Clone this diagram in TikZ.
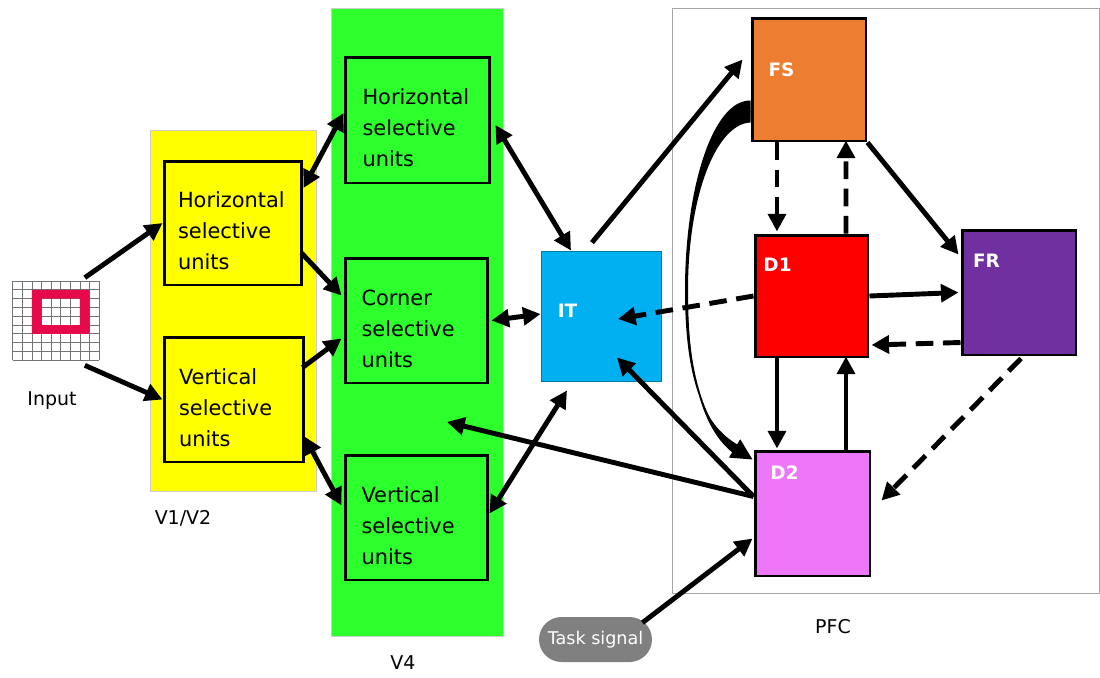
\documentclass[tikz,border=0pt]{standalone}
\usepackage{fontspec}
\setmainfont{DejaVu Sans}
\usetikzlibrary{arrows.meta,calc,shapes.misc,positioning}
\definecolor{vyellow}{RGB}{255,255,0}
\definecolor{vgreen}{RGB}{45,255,45}
\definecolor{itblue}{RGB}{0,176,240}
\definecolor{fsorange}{RGB}{237,125,49}
\definecolor{dred}{RGB}{255,0,0}
\definecolor{frpurple}{RGB}{112,48,160}
\definecolor{dpink}{RGB}{238,118,248}
\definecolor{taskgray}{RGB}{128,128,128}
\definecolor{inred}{RGB}{230,10,75}

\tikzset{
  unitbox/.style={draw, line width=1.7pt, align=left, text width=2.2cm, inner sep=0pt,
    font=\fontsize{11.9}{17.6}\selectfont, execute at begin node={\rule{0pt}{18pt}}},
  areabox/.style={draw, line width=1.7pt},
  arealabel/.style={text=white, font=\bfseries\fontsize{10.5}{12}\selectfont},
  regionlabel/.style={font=\fontsize{10.8}{13}\selectfont},
  conn/.style={line width=2.8pt, -{Triangle[length=10pt,width=10pt]}},
  biconn/.style={line width=2.8pt, {Triangle[length=10pt,width=10pt]}-{Triangle[length=10pt,width=10pt]}},
  dconn/.style={conn, dash pattern=on 10pt off 5.5pt},
}

\begin{document}
\begin{tikzpicture}[x=0.02cm, y=-0.02cm]
\useasboundingbox (0,0) rectangle (1100,677);

% Regions
\fill[vyellow, draw=gray!40] (150,130) rectangle (316,491);
\fill[vgreen, draw=gray!40] (331,8) rectangle (503,636);
\draw[gray!70] (672,8) rectangle (1099,593);

% Input grid
\node[minimum width=1.74cm, minimum height=1.58cm, inner sep=0pt] (inp) at (56,320.5) {};
\foreach \i in {0,...,9} {
    \draw[gray!90!black, line width=0.4pt] (12.7+9.6*\i,281) -- (12.7+9.6*\i,360);
    \draw[gray!90!black, line width=0.4pt] (12.7,281+8.8*\i) -- (99.1,281+8.8*\i);
}
\fill[inred, even odd rule] (31.9,289.8) rectangle (89.5,333.8) (41.5,298.6) rectangle (79.9,325);
\node[regionlabel] (inplab) at (52,401) {Input};

% V1/V2
\node[unitbox, fill=vyellow, minimum width=2.76cm, minimum height=2.48cm] (h1) at (233,223) {Horizontal\\selective\\units};
\node[unitbox, fill=vyellow, minimum width=2.8cm, minimum height=2.5cm] (v1) at (234,399.5) {Vertical\\selective\\units};
\node[regionlabel] (v1lab) at (183,518) {V1/V2};

% V4
\node[unitbox, fill=vgreen, minimum width=2.9cm, minimum height=2.52cm] (h4) at (417.5,120) {Horizontal\\selective\\units};
\node[unitbox, fill=vgreen, minimum width=2.86cm, minimum height=2.5cm] (c4) at (416.5,320.5) {Corner\\selective\\units};
\node[unitbox, fill=vgreen, minimum width=2.86cm, minimum height=2.5cm] (v4) at (416.5,517.5) {Vertical\\selective\\units};
\node[regionlabel] (v4lab) at (403,663) {V4};
\coordinate (gtip) at (447,422);

% IT
\node[draw=itblue!70!black, line width=0.5pt, fill=itblue, minimum width=2.4cm, minimum height=2.6cm] (it) at (601,316) {};
\node[arealabel] (itlab) at ($(it.north west)+(27,60)$) {IT};

% PFC
\node[areabox, fill=fsorange, minimum width=2.28cm, minimum height=2.46cm] (fs) at (809,79.5) {};
\node[areabox, fill=dred, minimum width=2.26cm, minimum height=2.44cm] (d1) at (811.5,296) {};
\node[areabox, fill=frpurple, minimum width=2.28cm, minimum height=2.5cm] (fr) at (1019,292.5) {};
\node[areabox, fill=dpink, minimum width=2.3cm, minimum height=2.5cm] (d2) at (812.5,513.5) {};
\node[arealabel] (fslab) at ($(fs.north west)+(31,53)$) {FS};
\node[arealabel] (d1lab) at ($(d1.north west)+(24,31)$) {D1};
\node[arealabel] (frlab) at ($(fr.north west)+(26,32)$) {FR};
\node[arealabel] (d2lab) at ($(d2.north west)+(31,23)$) {D2};
\node[regionlabel] (pfclab) at (833,627) {PFC};

% Task signal
\node[rounded rectangle, fill=taskgray, text=white, minimum width=2.26cm, minimum height=0.9cm, inner sep=0pt, font=\fontsize{10}{12}\selectfont] (ts) at (595.5,639.5) {Task signal};

% Feedforward
\draw[conn] ($(inp.north east)+(-15,-3)$) -- (h1.west);
\draw[conn] ($(inp.south east)+(-15,5)$) -- (v1.west);
\draw[biconn] ($(h1.east)+(0,-35)$) -- ($(h4.west)+(0,-7)$);
\draw[conn] ($(h1.east)+(-2,30)$) -- ($(c4.west)+(-2,-25)$);
\draw[conn] ($(v1.east)+(-3,-32)$) -- ($(c4.west)+(-2,18)$);
\draw[biconn] ($(v1.east)+(-1,37)$) -- ($(v4.west)+(-2,-12)$);
\draw[biconn] ($(h4.east)+(4,5)$) -- ($(it.north)+(-30,0)$);
\draw[biconn] ($(c4.east)+(2,0)$) -- ($(it.west)+(0,-2)$);
\draw[biconn] ($(v4.east)+(0,-4)$) -- ($(it.south)+(-34,9)$);
\draw[conn] ($(it.north)+(-9,-8)$) -- ($(fs.west)+(-8,-20)$);

% Feedback to IT and V4
\draw[dconn] (d1.west) -- ($(it.center)+(17,3)$);
\draw[conn] ($(d2.west)+(0,-17)$) -- ($(it.south)+(16,-24)$);
\draw[conn] ($(d2.west)+(0,-17)$) -- (gtip);
\draw[conn] ($(ts.north)+(47,6)$) -- ($(d2.west)+(-1,25)$);

% Within PFC
\draw[dconn] ($(fs.south)+(-32,0)$) -- ($(d1.north)+(-34.5,-2)$);
\draw[dconn] ($(d1.north)+(34.5,0)$) -- ($(fs.south)+(37,-2)$);
\draw[conn] ($(d1.south)+(-34.5,0)$) -- ($(d2.north)+(-35.5,-1)$);
\draw[conn] ($(d2.north)+(33.5,0)$) -- ($(d1.south)+(34.5,-2)$);
\draw[conn] (fs.south east) -- ($(fr.north west)+(-2,26)$);
\draw[conn] (d1.east) -- ($(fr.west)+(-2,0)$);
\draw[dconn] ($(fr.west)+(0,50)$) -- ($(d1.east)+(2,49)$);
\draw[dconn] ($(fr.south)+(2,2)$) -- ($(d2.east)+(10,-13)$);

% FS to D2 curve
\fill ($(fs.south west)+(0,-42)$) .. controls (712,100) and (685,190) .. (685,290)
    .. controls (685,382) and (704,428) .. (742,447) -- (737,456)
    .. controls (705,434) and (688,385) .. (688,290)
    .. controls (688,196) and (716,124) .. ($(fs.south west)+(0,-20)$) -- cycle;
\draw[line width=1pt, -{Triangle[length=12pt,width=12pt]}] ($(fs.south west)+(0,-31)$) .. controls (714,112) and (686.5,190) .. (686.5,290)
    .. controls (686.5,382) and (708,432) .. ($(d2.north west)+(-1,10)$);
\end{tikzpicture}
\end{document}
